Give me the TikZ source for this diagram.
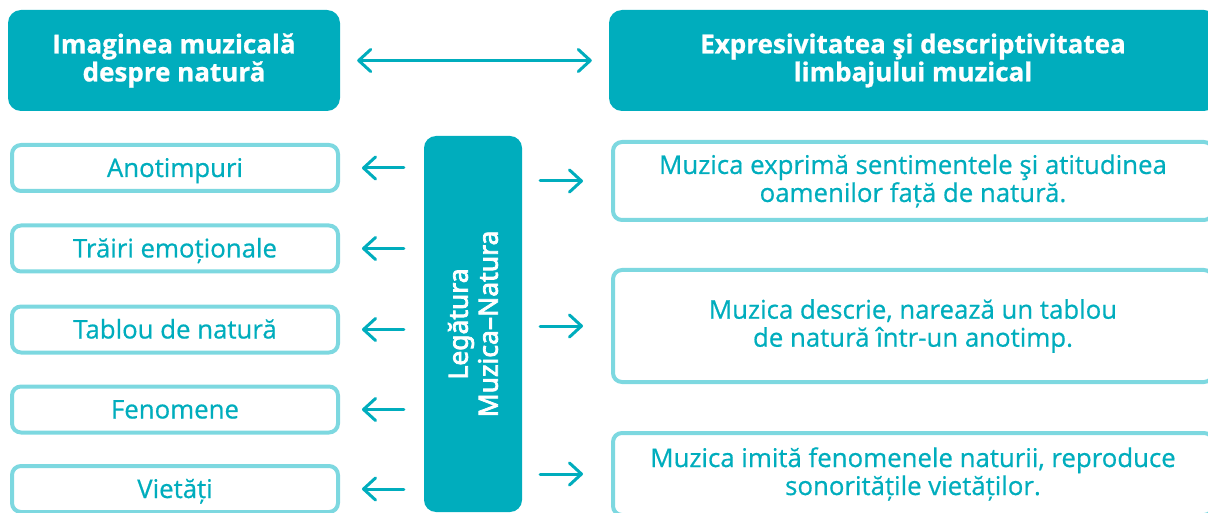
\documentclass[tikz,border=0pt]{standalone}
\usepackage{fontspec}
\setmainfont{Open Sans}[BoldFeatures={FakeBold=0.8}]
\newfontfamily\semib{Open Sans}[FakeBold=0.6]
\newfontfamily\vertf{Noto Sans}[FakeBold=3]
\usetikzlibrary{arrows.meta}
\definecolor{tealA}{RGB}{0,173,189}
\definecolor{tealL}{RGB}{125,216,224}
\tikzset{barb/.tip={Straight Barb[length=12pt,width=22pt,round]}}
\begin{document}
\begin{tikzpicture}[x=1pt,y=-1pt,
  filledbox/.style={rectangle, rounded corners=13pt, fill=tealA, draw=none, text=white,
    font=\bfseries\fontsize{26}{28}\selectfont, align=center, inner sep=0pt},
  leftbox/.style={rectangle, rounded corners=9pt, draw=tealL, line width=4pt, text=tealA,
    font=\semib\fontsize{25.8}{28}\selectfont, minimum width=326pt, minimum height=46pt,
    inner sep=0pt, text height=18pt, text depth=0pt},
  rightbox/.style={rectangle, rounded corners=9pt, draw=tealL, line width=4pt, text=tealA,
    font=\semib\fontsize{25.8}{28}\selectfont, align=center, minimum width=600pt, inner sep=0pt},
  arr/.style={draw=tealA, line width=3pt, line cap=round, -barb},
  dbl/.style={draw=tealA, line width=3pt, line cap=round, barb-barb},
]
\clip (0,0) rectangle (1208,513);
% top row
\node[filledbox, minimum width=332pt, minimum height=101pt] (tl) at (174,60.5) {\raisebox{-3pt}{\parbox{300pt}{\centering Imaginea muzicală\\despre natură}}};
\node[filledbox, minimum width=608pt, minimum height=101pt] (tr) at (913,60.5) {\raisebox{-3pt}{\parbox{560pt}{\centering Expresivitatea şi descriptivitatea\\limbajului muzical}}};
% central vertical box
\node[filledbox, rounded corners=12pt, rotate=90, minimum width=376pt, minimum height=98pt,
  font=\vertf\fontsize{26.5}{30}\selectfont] (vb) at (473,324) {Legătura\\Muzica–Natura};
% left column
\node[leftbox] (a1) at (175,168) {Anotimpuri};
\node[leftbox] (a2) at (175,248.5) {Trăiri emoționale};
\node[leftbox] (a3) at (175,329.5) {Tablou de natură};
\node[leftbox] (a4) at (175,409.5) {Fenomene};
\node[leftbox] (a5) at (175,489) {Vietăți};
% right column
\node[rightbox, minimum height=78pt] (r1) at (913,181) {Muzica exprimă sentimentele şi atitudinea\\oamenilor față de natură.};
\node[rightbox, minimum height=112pt] (r2) at (913,326) {Muzica descrie, narează un tablou\\de natură într-un anotimp.};
\node[rightbox, minimum height=82pt] (r3) at (913,474) {Muzica imită fenomenele naturii, reproduce\\sonoritățile vietăților.};
% connectors
\draw[dbl, shorten <=17pt, shorten >=17pt] (tl.east) -- (tr.west);
\foreach \n in {a1,a2,a3,a4,a5}{
  \draw[arr, shorten <=20pt, shorten >=22pt] (vb.north |- \n.east) -- (\n.east);
}
\foreach \n in {r1,r2,r3}{
  \draw[arr, shorten <=18pt, shorten >=28pt] (vb.south |- \n.west) -- (\n.west);
}
\end{tikzpicture}
\end{document}
